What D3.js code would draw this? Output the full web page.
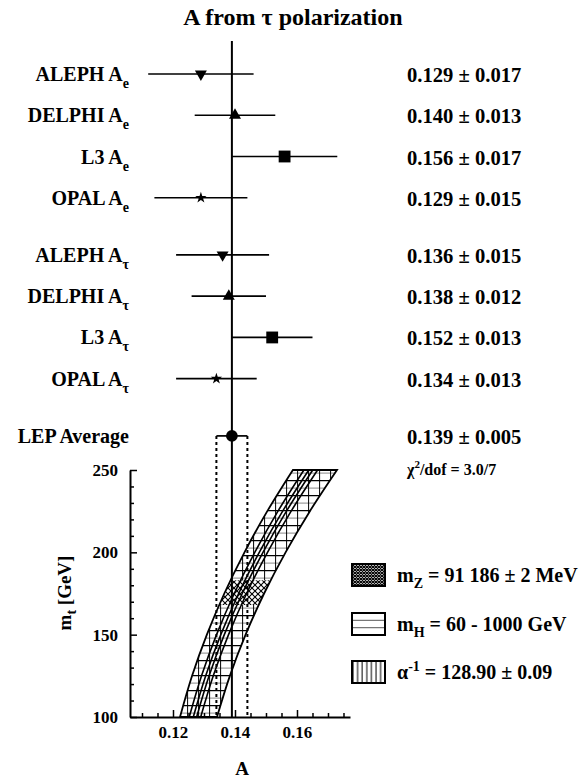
<!DOCTYPE html>
<html><head><meta charset="utf-8">
<script src="https://cdn.jsdelivr.net/npm/d3@7"></script>
<style>
body{margin:0;background:#fff}
svg text{font-family:"Liberation Serif","Times New Roman",Times,serif !important;font-weight:bold;fill:#000}
</style>
</head><body>
<svg id="c" width="582" height="778" font-family="Liberation Serif"></svg>
<script>
// ---------- data ----------
const labels  = ["ALEPH","DELPHI","L3","OPAL","ALEPH","DELPHI","L3","OPAL","LEP Average"];
const subs    = ["e","e","e","e","τ","τ","τ","τ",""];
const groups  = [0,0,0,0,1,1,1,1,2];
const values  = [0.129,0.140,0.156,0.129,0.136,0.138,0.152,0.134,0.139];
const errors  = [0.017,0.013,0.017,0.015,0.015,0.012,0.013,0.013,0.005];
const markers = ["down","up","square","star","down","up","square","star","circle"];
const chi2Text = "/dof = 3.0/7";

// SM band (m_t in GeV vs A)
const mtGrid    = [100,125,150,175,200,225,250];
const bandLeft  = [0.12226,0.12616,0.13093,0.13655,0.14306,0.15042,0.15868];
const bandRight = [0.13419,0.13835,0.14342,0.14939,0.15632,0.16416,0.17290];
const innerLines = [
  [0.12524,0.12921,0.13405,0.13976,0.14638,0.15386,0.16224],
  [0.12655,0.13055,0.13543,0.14117,0.14783,0.15537,0.16380],
  [0.12763,0.13165,0.13655,0.14233,0.14903,0.15660,0.16508],
  [0.12894,0.13299,0.13792,0.14374,0.15049,0.15811,0.16664]
];
const mtMeasured = [168,183];

const xMajorTicks = [0.12,0.14,0.16];
const xMinorTicks = [0.11,0.115,0.125,0.13,0.135,0.145,0.15,0.155,0.165,0.17,0.175];
const yMajorTicks = [100,150,200,250];
const yMinorTicks = [110,120,130,140,160,170,180,190,210,220,230,240];

const legendItems = [
  {pat:"legChk", main:"m", sub:"Z", rest:" = 91 186 ± 2 MeV"},
  {pat:"legH",   main:"m", sub:"H", rest:" = 60 - 1000 GeV"},
  {pat:"legV",   main:"α", sup:"-1", rest:" = 128.90 ± 0.09"}
];

// ---------- layout ----------
const svg = d3.select("#c");
const x = d3.scaleLinear().domain([0.10613,0.17710]).range([130,350]);
const y = d3.scaleLinear().domain([100,250]).range([717,470]);
const axisY = 717;

const rowStep = 41.25, groupStep = 57.2;
const rowY = [];
let cur = 74;
labels.forEach((d,i)=>{ if(i>0) cur += (groups[i]!==groups[i-1]) ? groupStep : rowStep; rowY.push(cur); });

// ---------- patterns ----------
const defs = svg.append("defs");
const pH = defs.append("pattern").attr("id","hH").attr("patternUnits","userSpaceOnUse").attr("width",10).attr("height",15);
pH.append("line").attr("x1",0).attr("x2",10).attr("y1",0.6).attr("y2",0.6).attr("stroke","#000").attr("stroke-width",1.3);
pH.append("line").attr("x1",0).attr("x2",10).attr("y1",8.1).attr("y2",8.1).attr("stroke","#888").attr("stroke-width",1);
const pV = defs.append("pattern").attr("id","hV").attr("patternUnits","userSpaceOnUse").attr("width",11).attr("height",10);
pV.append("line").attr("x1",0.6).attr("x2",0.6).attr("y1",0).attr("y2",10).attr("stroke","#000").attr("stroke-width",1);
const pX = defs.append("pattern").attr("id","hX").attr("patternUnits","userSpaceOnUse").attr("width",6).attr("height",6);
pX.append("path").attr("d","M0,0L6,6M6,0L0,6").attr("stroke","#000").attr("stroke-width",1.1);
const pC = defs.append("pattern").attr("id","legChk").attr("patternUnits","userSpaceOnUse").attr("width",3).attr("height",3);
pC.append("rect").attr("width",3).attr("height",3).attr("fill","#fff");
pC.append("path").attr("d","M0,0L3,3M3,0L0,3").attr("stroke","#000").attr("stroke-width",1.2);
const pLV = defs.append("pattern").attr("id","legV").attr("patternUnits","userSpaceOnUse").attr("width",4.6).attr("height",10);
pLV.append("line").attr("x1",1).attr("x2",1).attr("y1",0).attr("y2",10).attr("stroke","#000").attr("stroke-width",1);

// ---------- band ----------
const bandArea = d3.area()
  .y((d,i)=>y(mtGrid[i]))
  .x0((d,i)=>x(bandLeft[i]))
  .x1((d,i)=>x(bandRight[i]))
  .curve(d3.curveCatmullRom);
const bandPath = bandArea(mtGrid);
defs.append("clipPath").attr("id","bandClip").append("path").attr("d",bandPath);

const band = svg.append("g");
band.append("path").attr("d",bandPath).attr("fill","#fff");
band.append("path").attr("d",bandPath).attr("fill","url(#hH)");
band.append("path").attr("d",bandPath).attr("fill","url(#hV)");
band.append("rect").attr("clip-path","url(#bandClip)")
  .attr("x",120).attr("width",260)
  .attr("y",y(mtMeasured[1])).attr("height",y(mtMeasured[0])-y(mtMeasured[1]))
  .attr("fill","#fff");
band.append("rect").attr("clip-path","url(#bandClip)")
  .attr("x",120).attr("width",260)
  .attr("y",y(mtMeasured[1])).attr("height",y(mtMeasured[0])-y(mtMeasured[1]))
  .attr("fill","url(#hX)");
const lineGen = d3.line().y((d,i)=>y(mtGrid[i])).x(d=>x(d)).curve(d3.curveCatmullRom);
innerLines.forEach(L=>{
  band.append("path").attr("d",lineGen(L)).attr("fill","none").attr("stroke","#000").attr("stroke-width",1.6);
});
band.append("path").attr("d",bandPath).attr("fill","none").attr("stroke","#000").attr("stroke-width",1.8);

// ---------- central line & LEP dotted ----------
const lepIdx = values.length-1;
svg.append("line").attr("x1",x(values[lepIdx])).attr("x2",x(values[lepIdx]))
  .attr("y1",41).attr("y2",axisY).attr("stroke","#000").attr("stroke-width",2);
[values[lepIdx]-errors[lepIdx], values[lepIdx]+errors[lepIdx]].forEach(v=>{
  svg.append("line").attr("x1",x(v)).attr("x2",x(v)).attr("y1",rowY[lepIdx]).attr("y2",axisY)
    .attr("stroke","#000").attr("stroke-width",2).attr("stroke-dasharray","3,3");
});

// ---------- measurements ----------
const symType = {down:d3.symbolTriangle, up:d3.symbolTriangle, square:d3.symbolSquare, star:d3.symbolStar, circle:d3.symbolCircle};
const symSize = {down:62, up:62, square:140, star:40, circle:108};
labels.forEach((lab,i)=>{
  const yy = rowY[i];
  svg.append("line").attr("x1",x(values[i]-errors[i])).attr("x2",x(values[i]+errors[i]))
    .attr("y1",yy).attr("y2",yy).attr("stroke","#000").attr("stroke-width",1.7);
  const m = markers[i];
  svg.append("path").attr("d",d3.symbol().type(symType[m]).size(symSize[m])())
    .attr("transform",`translate(${x(values[i])},${yy})` + (m==="down"?" rotate(180)":""))
    .attr("fill","#000");
  const t = svg.append("text").attr("x",129).attr("y",yy+7).attr("text-anchor","end").attr("font-size",20);
  if(subs[i]){
    t.append("tspan").text(lab+" A");
    t.append("tspan").attr("dy",7).attr("font-size",14).text(subs[i]);
  } else {
    t.text(lab);
  }
  svg.append("text").attr("x",407).attr("y",yy+8).attr("font-size",20.6)
    .text(`${values[i].toFixed(3)} ± ${errors[i].toFixed(3)}`);
});
const chi = svg.append("text").attr("x",407).attr("y",475).attr("font-size",16);
chi.append("tspan").text("χ");
chi.append("tspan").attr("dy",-7).attr("font-size",11).text("2");
chi.append("tspan").attr("dy",7).text(chi2Text);

// ---------- title ----------
svg.append("text").attr("x",293).attr("y",25).attr("text-anchor","middle").attr("font-size",24)
  .text("A from τ polarization");

// ---------- axes ----------
function styleAxis(g){
  g.attr("font-family",null);
  g.selectAll("path.domain").attr("stroke","#000").attr("stroke-width",2);
  g.selectAll(".tick line").attr("stroke","#000").attr("stroke-width",1.5);
  g.selectAll("text").attr("font-size",17).attr("fill","#000");
}
const gxMinor = svg.append("g").attr("transform",`translate(0,${axisY})`)
  .call(d3.axisBottom(x).tickValues(xMinorTicks).tickSizeInner(-4).tickSizeOuter(0).tickFormat(""));
gxMinor.select(".domain").remove();
styleAxis(gxMinor);
const gx = svg.append("g").attr("transform",`translate(0,${axisY})`)
  .call(d3.axisBottom(x).tickValues(xMajorTicks).tickSizeInner(-7).tickSizeOuter(0).tickPadding(9).tickFormat(d3.format(".2f")));
styleAxis(gx);
const gyMinor = svg.append("g").attr("transform","translate(130,0)")
  .call(d3.axisLeft(y).tickValues(yMinorTicks).tickSizeInner(-4).tickSizeOuter(0).tickFormat(""));
gyMinor.select(".domain").remove();
styleAxis(gyMinor);
const gy = svg.append("g").attr("transform","translate(130,0)")
  .call(d3.axisLeft(y).tickValues(yMajorTicks).tickSizeInner(-7).tickSizeOuter(0).tickPadding(12));
styleAxis(gy);

svg.append("text").attr("x",242).attr("y",775).attr("text-anchor","middle").attr("font-size",19).text("A");
const yl = svg.append("text").attr("transform","translate(71,593) rotate(-90)").attr("text-anchor","middle").attr("font-size",19);
yl.append("tspan").text("m");
yl.append("tspan").attr("dy",5).attr("font-size",14).text("t");
yl.append("tspan").attr("dy",-5).text(" [GeV]");

// ---------- legend ----------
const legTop = [564,613,661];
legendItems.forEach((d,i)=>{
  const g = svg.append("g").attr("transform",`translate(352,${legTop[i]})`);
  if(d.pat==="legH"){
    g.append("rect").attr("width",33).attr("height",22).attr("fill","#fff");
    [7.3,14.6].forEach(v=>g.append("line").attr("x1",0).attr("x2",33).attr("y1",v).attr("y2",v).attr("stroke","#777").attr("stroke-width",1.2));
  } else {
    g.append("rect").attr("width",33).attr("height",22).attr("fill",`url(#${d.pat})`);
  }
  g.append("rect").attr("width",33).attr("height",22).attr("fill","none").attr("stroke","#000").attr("stroke-width",2);
  const t = g.append("text").attr("x",45).attr("y",18).attr("font-size",20);
  t.append("tspan").text(d.main);
  if(d.sub){
    t.append("tspan").attr("dy",6).attr("font-size",14).text(d.sub);
    t.append("tspan").attr("dy",-6).text(d.rest);
  } else {
    t.append("tspan").attr("dy",-8).attr("font-size",14).text(d.sup);
    t.append("tspan").attr("dy",8).text(d.rest);
  }
});
</script>
</body></html>
